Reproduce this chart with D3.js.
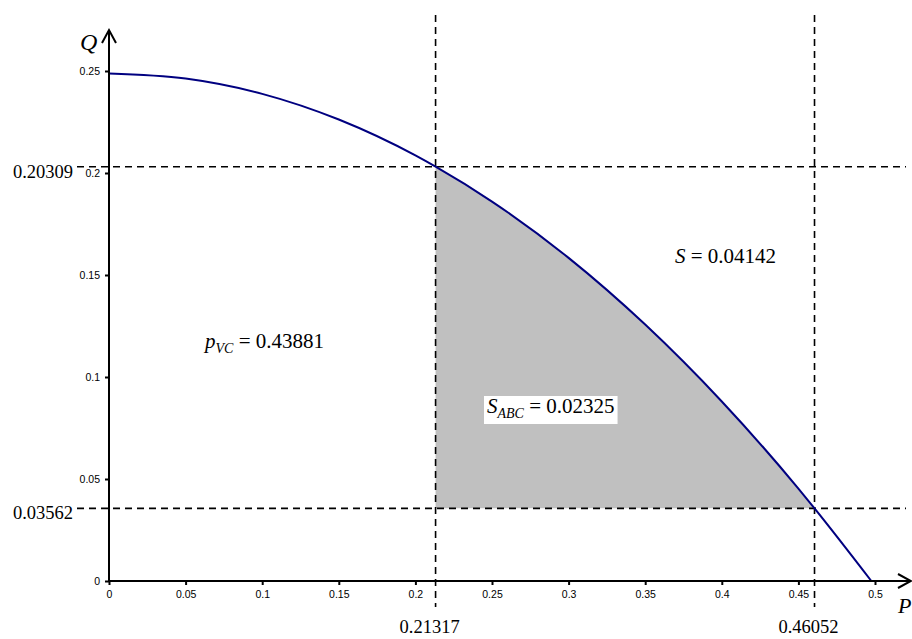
<!DOCTYPE html>
<html><head><meta charset="utf-8">
<script src="https://cdn.jsdelivr.net/npm/d3@7"></script>
<style>body{margin:0;background:#fff}</style>
</head><body>
<svg id="c" width="912" height="639"></svg>
<script>
// Curve
const curveP = [0, 0.05, 0.1, 0.15, 0.2, 0.21317, 0.25, 0.3, 0.35, 0.4, 0.45, 0.46052, 0.4976];
const curveQ = [0.2488, 0.2463, 0.2388, 0.2262, 0.2086, 0.20309, 0.1860, 0.1584, 0.1257, 0.0880, 0.0453, 0.03562, 0];
const xTicks = [0, 0.05, 0.1, 0.15, 0.2, 0.25, 0.3, 0.35, 0.4, 0.45, 0.5];
const yTicks = [0, 0.05, 0.1, 0.15, 0.2, 0.25];
const markP = [0.21317, 0.46052];
const markQ = [0.20309, 0.03562];
const markPLabels = ["0.21317", "0.46052"];
const markQLabels = ["0.20309", "0.03562"];
const pVC = "0.43881", sABC = "0.02325", sTot = "0.04142";

const svg = d3.select("#c");
const x = d3.scaleLinear().domain([0, 0.5]).range([109, 875]);
const y = d3.scaleLinear().domain([0, 0.25]).range([581, 71]);
const pts = curveP.map((p, i) => ({p, q: curveQ[i]}));

// shaded region
const shade = pts.filter(d => d.p >= markP[0] && d.p <= markP[1]);
svg.append("path").datum(shade)
  .attr("d", d3.area().x(d => x(d.p)).y0(y(markQ[1])).y1(d => y(d.q)).curve(d3.curveMonotoneX))
  .attr("fill", "#c0c0c0");

// dashed lines
const dash = "7,5";
markQ.forEach(q => svg.append("line").attr("x1", 77).attr("x2", 906).attr("y1", y(q)).attr("y2", y(q))
  .attr("stroke", "#000").attr("stroke-width", 1.6).attr("stroke-dasharray", dash));
markP.forEach(p => svg.append("line").attr("y1", 15).attr("y2", 607).attr("x1", x(p)).attr("x2", x(p))
  .attr("stroke", "#000").attr("stroke-width", 1.6).attr("stroke-dasharray", dash));

// curve
svg.append("path").datum(pts)
  .attr("d", d3.line().x(d => x(d.p)).y(d => y(d.q)).curve(d3.curveMonotoneX))
  .attr("fill", "none").attr("stroke", "#000080").attr("stroke-width", 2);

// axes
const fmt = d => String(+d.toFixed(2));
const gx = svg.append("g").attr("transform", `translate(0,${y(0)})`)
  .call(d3.axisBottom(x).tickValues(xTicks).tickFormat(fmt).tickSize(4).tickPadding(6));
const gy = svg.append("g").attr("transform", `translate(${x(0)},0)`)
  .call(d3.axisLeft(y).tickValues(yTicks).tickFormat(fmt).tickSize(4).tickPadding(5));
[gx, gy].forEach(g => {
  g.select(".domain").remove();
  g.selectAll(".tick line").attr("stroke-width", 2);
  g.selectAll(".tick text").attr("font-family", "Liberation Sans, Arial, sans-serif").attr("font-size", 10.5).attr("fill", "#000");
});
svg.append("line").attr("x1", x(0)).attr("x2", 910).attr("y1", y(0)).attr("y2", y(0)).attr("stroke", "#000").attr("stroke-width", 2);
svg.append("line").attr("x1", x(0)).attr("x2", x(0)).attr("y1", y(0) + 1).attr("y2", 31).attr("stroke", "#000").attr("stroke-width", 2);
svg.append("path").attr("d", `M${x(0)-7},43L${x(0)},30L${x(0)+7},43`).attr("fill", "none").attr("stroke", "#000").attr("stroke-width", 2);
svg.append("path").attr("d", `M898,${y(0)-7}L911,${y(0)}L898,${y(0)+7}`).attr("fill", "none").attr("stroke", "#000").attr("stroke-width", 2);

const serif = "Liberation Serif, Times New Roman, serif";
svg.append("text").attr("x", 80).attr("y", 50).attr("font-family", serif).attr("font-style", "italic").attr("font-size", 24).text("Q");
svg.append("text").attr("x", 898).attr("y", 613).attr("font-family", serif).attr("font-style", "italic").attr("font-size", 22).text("P");

// special value labels
markQ.forEach((q, i) => svg.append("text").attr("x", 73).attr("y", y(q) + 11).attr("text-anchor", "end")
  .attr("font-family", serif).attr("font-size", 18.5).text(markQLabels[i]));
markP.forEach((p, i) => svg.append("text").attr("x", x(p) - 6).attr("y", 633).attr("text-anchor", "middle")
  .attr("font-family", serif).attr("font-size", 18.5).text(markPLabels[i]));

// annotations
function ann(xp, yp, main, sub, val, box) {
  const t = svg.append("text").attr("x", xp).attr("y", yp).attr("font-family", serif).attr("font-size", 21);
  t.append("tspan").attr("font-style", "italic").text(main);
  if (sub) t.append("tspan").attr("font-style", "italic").attr("font-size", 14).attr("dy", 5).text(sub);
  t.append("tspan").attr("dy", sub ? -5 : 0).text(" = " + val);
  if (box) {
    const b = t.node().getBBox();
    svg.insert("rect", () => t.node()).attr("x", b.x - 3).attr("y", b.y + 2).attr("width", b.width + 6).attr("height", b.height + 1).attr("fill", "#fff");
  }
}
ann(205, 348, "p", "VC", pVC, false);
ann(487, 413, "S", "ABC", sABC, true);
ann(675, 263, "S", null, sTot, false);
</script>
</body></html>
